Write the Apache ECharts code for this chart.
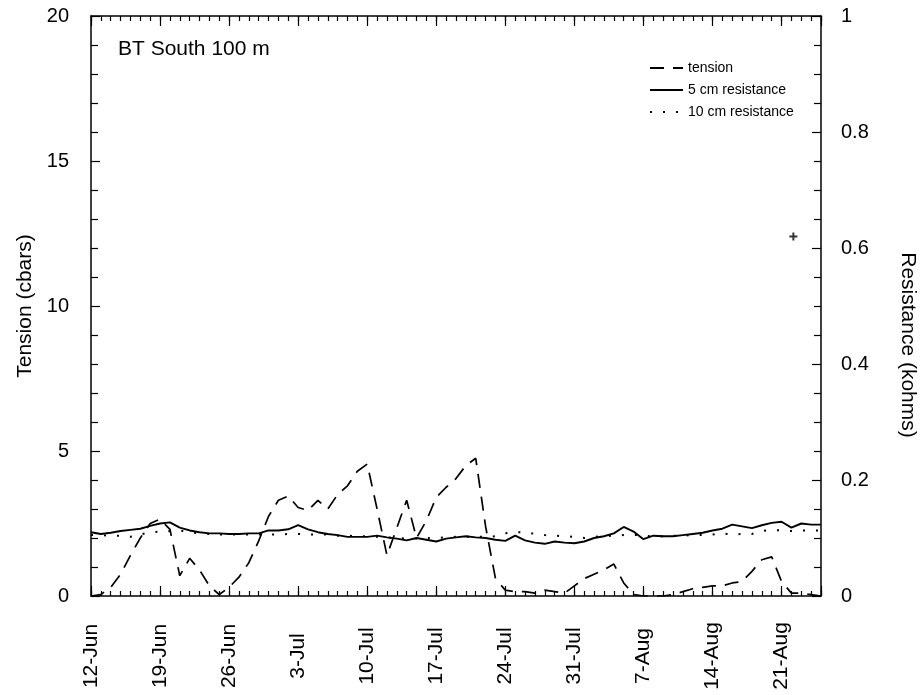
<!DOCTYPE html>
<html>
<head>
<meta charset="utf-8">
<script src="https://cdn.jsdelivr.net/npm/echarts@6/dist/echarts.min.js"></script>
<style>html,body{margin:0;padding:0;background:#fff}#c{width:920px;height:695px}</style>
</head>
<body>
<div id="c"></div>
<script>
// x tick labels (one every 7 days, day 0 = 12-Jun)
const tickLabels = ['12-Jun','19-Jun','26-Jun','3-Jul','10-Jul','17-Jul','24-Jul','31-Jul','7-Aug','14-Aug','21-Aug'];

// daily values, index = days since 12-Jun
const tension = [
  0, 0.05, 0.3, 0.75, 1.4, 2.0, 2.5, 2.65, 2.3, 0.7,
  1.3, 0.9, 0.35, 0.05, 0.3, 0.65, 1.15, 1.9, 2.75, 3.3,
  3.45, 3.05, 2.95, 3.3, 3.0, 3.5, 3.8, 4.3, 4.55, 3.0,
  1.4, 2.35, 3.3, 2.0, 2.6, 3.4, 3.75, 4.05, 4.5, 4.75,
  2.4, 0.6, 0.2, 0.15, 0.15, 0.1, 0.2, 0.15, 0.1, 0.35,
  0.6, 0.75, 0.9, 1.1, 0.45, 0.05, 0, 0, 0, 0.05,
  0.15, 0.25, 0.3, 0.35, 0.35, 0.45, 0.5, 0.85, 1.25, 1.35,
  0.5, 0.1, 0.1, 0.05, 0
];
const res5cm = [
  0.110,0.107,0.109,0.112,0.114,0.116,0.121,0.125,0.127,0.118,
  0.113,0.110,0.108,0.108,0.107,0.107,0.108,0.108,0.113,0.113,
  0.115,0.122,0.115,0.110,0.107,0.105,0.102,0.102,0.102,0.104,
  0.101,0.099,0.096,0.100,0.097,0.094,0.099,0.101,0.103,0.101,
  0.100,0.097,0.095,0.104,0.096,0.092,0.090,0.094,0.092,0.091,
  0.094,0.100,0.103,0.108,0.119,0.111,0.098,0.104,0.103,0.103,
  0.105,0.107,0.109,0.113,0.116,0.123,0.120,0.117,0.122,0.126,
  0.128,0.118,0.125,0.123,0.123
];
const res10cm = [
  0.105,0.105,0.104,0.104,0.102,0.106,0.110,0.111,0.112,0.113,
  0.110,0.108,0.107,0.106,0.106,0.106,0.106,0.106,0.106,0.106,
  0.107,0.107,0.106,0.106,0.106,0.104,0.104,0.103,0.103,0.102,
  0.101,0.100,0.099,0.099,0.100,0.100,0.101,0.102,0.102,0.102,
  0.102,0.103,0.108,0.110,0.110,0.107,0.105,0.104,0.103,0.102,
  0.100,0.102,0.103,0.104,0.105,0.105,0.105,0.102,0.103,0.104,
  0.104,0.105,0.105,0.106,0.108,0.106,0.107,0.107,0.112,0.114,
  0.113,0.112,0.113,0.113,0.113
];
// isolated point (day, kohms)
const strayPoint = [[71.2, 0.62]];

const FONT = 'Liberation Sans, Arial, Helvetica, sans-serif';
const BLACK = '#000';
const G = {left: 91, right: 99, top: 16, bottom: 99};

const pairs = arr => arr.map((v, i) => [i, v]);

const baseX = (gridIndex, position, interval, tickLen, withLabels, showLine) => ({
  type: 'value', gridIndex, position, min: 0, max: 74, interval,
  axisLine: {show: showLine, onZero: false, lineStyle: {color: BLACK, width: 1.5}},
  axisTick: {show: true, inside: true, length: tickLen, lineStyle: {color: BLACK, width: 1.2}},
  splitLine: {show: false},
  axisLabel: withLabels ? {
    show: true, rotate: 90, align: 'center', verticalAlign: 'middle', margin: 60,
    padding: [0, 0, 24, 0],
    color: BLACK, fontSize: 21, fontFamily: FONT,
    formatter: v => (v % 7 === 0 && tickLabels[v / 7] !== undefined) ? tickLabels[v / 7] : ''
  } : {show: false}
});

const chart = echarts.init(document.getElementById('c'), null, {renderer: 'canvas'});
chart.setOption({
  animation: false,
  backgroundColor: '#fff',
  grid: [
    Object.assign({outerBoundsMode: 'none', containLabel: false}, G),
    Object.assign({outerBoundsMode: 'none', containLabel: false}, G)
  ],
  graphic: [{
    type: 'text', left: 118, top: 39,
    style: {text: 'BT South 100 m', fontSize: 21, fontFamily: FONT, fill: BLACK}
  }],
  legend: {
    orient: 'vertical', left: 644, top: 56,
    itemWidth: 33, itemHeight: 14, itemGap: 8,
    itemStyle: {opacity: 0, borderWidth: 0},
    textStyle: {fontSize: 14, fontFamily: FONT, color: BLACK},
    data: ['tension', '5 cm resistance', '10 cm resistance']
  },
  xAxis: [
    baseX(0, 'bottom', 1, 5, true, true),
    baseX(0, 'top', 1, 5, false, true),
    baseX(1, 'bottom', 7, 10, false, false),
    baseX(1, 'top', 7, 10, false, false)
  ],
  yAxis: [
    {
      type: 'value', gridIndex: 0, position: 'left', min: 0, max: 20, interval: 5,
      name: 'Tension (cbars)', nameLocation: 'middle', nameGap: 40,
      nameTextStyle: {fontSize: 21, fontFamily: FONT, color: BLACK},
      axisLine: {show: true, onZero: false, lineStyle: {color: BLACK, width: 1.5}},
      axisTick: {show: true, inside: true, length: 9, lineStyle: {color: BLACK, width: 1.2}},
      minorTick: {show: true, splitNumber: 5, length: 7, lineStyle: {color: BLACK, width: 1.2}},
      splitLine: {show: false}, minorSplitLine: {show: false},
      axisLabel: {color: BLACK, fontSize: 20, fontFamily: FONT, margin: 22}
    },
    {
      type: 'value', gridIndex: 0, position: 'right', min: 0, max: 1, interval: 0.2,
      name: 'Resistance (kohms)', nameLocation: 'middle', nameGap: 76, nameRotate: -90,
      nameTextStyle: {fontSize: 21, fontFamily: FONT, color: BLACK, padding: [0, 0, 0, 78]},
      axisLine: {show: true, onZero: false, lineStyle: {color: BLACK, width: 1.5}},
      axisTick: {show: true, inside: true, length: 9, lineStyle: {color: BLACK, width: 1.2}},
      minorTick: {show: true, splitNumber: 4, length: 7, lineStyle: {color: BLACK, width: 1.2}},
      splitLine: {show: false}, minorSplitLine: {show: false},
      axisLabel: {color: BLACK, fontSize: 20, fontFamily: FONT, margin: 20, align: 'left',
        formatter: v => (v === 0 ? '0' : v === 1 ? '1' : v.toFixed(1))}
    },
    {type: 'value', gridIndex: 1, min: 0, max: 20, show: false}
  ],
  series: [
    {
      name: 'tension', type: 'line', xAxisIndex: 0, yAxisIndex: 0,
      data: pairs(tension), symbol: 'none', smooth: false,
      lineStyle: {color: BLACK, width: 1.7, type: [14, 9]},
      itemStyle: {color: BLACK}
    },
    {
      name: '5 cm resistance', type: 'line', xAxisIndex: 0, yAxisIndex: 1,
      data: pairs(res5cm), symbol: 'none',
      lineStyle: {color: BLACK, width: 1.9, type: 'solid'},
      itemStyle: {color: BLACK}
    },
    {
      name: '10 cm resistance', type: 'line', xAxisIndex: 0, yAxisIndex: 1,
      data: pairs(res10cm), symbol: 'none',
      lineStyle: {color: BLACK, width: 2, type: [2, 11]},
      itemStyle: {color: BLACK}
    },
    {
      name: 'stray', type: 'scatter', xAxisIndex: 0, yAxisIndex: 1,
      data: strayPoint, symbol: 'path://M3,0H5V3H8V5H5V8H3V5H0V3H3Z', symbolSize: 8,
      itemStyle: {color: BLACK}
    }
  ]
});
</script>
</body>
</html>
